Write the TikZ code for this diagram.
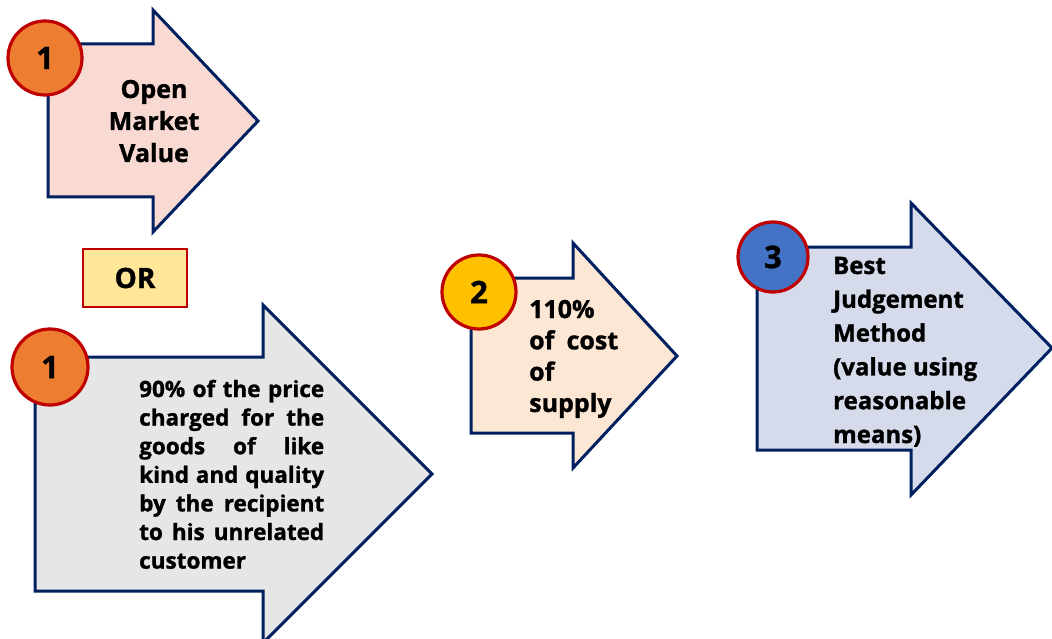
\documentclass[tikz,border=0pt]{standalone}
\usepackage{fontspec}
\setmainfont{Open Sans}[BoldFeatures={FakeBold=1.2}]
\definecolor{navy}{HTML}{002060}
\definecolor{cred}{HTML}{C00000}
\definecolor{fpink}{HTML}{F9DAD2}
\definecolor{fgrey}{HTML}{E6E6E6}
\definecolor{fpeach}{HTML}{FCE6D4}
\definecolor{flav}{HTML}{D6DBEC}
\definecolor{corange}{HTML}{ED7D31}
\definecolor{cyellow}{HTML}{FFC000}
\definecolor{cblue}{HTML}{4472C4}
\definecolor{orfill}{HTML}{FFE699}
\tikzset{
  arrowshape/.style={draw=navy, line width=3pt, line join=miter},
  numcircle/.style={circle, draw=cred, line width=3.2pt, inner sep=0pt, font=\fontsize{31}{31}\selectfont\bfseries},
  txt/.style={inner sep=0pt, anchor=base west},
}
\begin{document}
\begin{tikzpicture}[x=1pt,y=-1pt]
\useasboundingbox (0,0) rectangle (1052,639);
% arrows
\draw[arrowshape, fill=fpink] (48,44) -- (153,44) -- (153,10) -- (258,121) -- (153,232) -- (153,197) -- (48,197) -- cycle;
\draw[arrowshape, fill=fgrey] (35,357) -- (263,357) -- (263,305) -- (432,474) -- (263,643) -- (263,591) -- (35,591) -- cycle;
\draw[arrowshape, fill=fpeach] (471,278) -- (573,278) -- (573,243) -- (677,356) -- (573,468) -- (573,433) -- (471,433) -- cycle;
\draw[arrowshape, fill=flav] (757,247) -- (911,247) -- (911,203) -- (1052,348) -- (911,495) -- (911,450) -- (757,450) -- cycle;
% OR box
\node[draw=cred, line width=2pt, fill=orfill, minimum width=104pt, minimum height=58pt, inner sep=0pt,
  font=\fontsize{28}{28}\selectfont\bfseries] (orbox) at (135,278) {OR};
% circles
\node[numcircle, fill=corange, minimum size=74pt] (c1a) at (45,58) {1};
\node[numcircle, fill=corange, minimum size=76pt] (c1b) at (50,367) {1};
\node[numcircle, fill=cyellow, minimum size=74pt] (c2) at (479,292) {2};
\node[numcircle, fill=cblue, minimum size=70pt] (c3) at (773,257) {3};
% texts
\node[txt, anchor=base] (t1) at (154,98) {\parbox[t]{120pt}{\centering\fontsize{25}{32}\selectfont\bfseries Open\\Market\\Value}};
\node[txt] (t2) at (139,397) {\parbox[t]{185pt}{\fontsize{22.5}{28.6}\selectfont\bfseries
\makebox[185pt][s]{90\% of the price}\\
\makebox[185pt][s]{charged for the}\\
\makebox[185pt][s]{goods of like}\\
\makebox[185pt][s]{kind and quality}\\
\makebox[185pt][s]{by the recipient}\\
\makebox[185pt][s]{to his unrelated}\\
customer}};
\node[txt] (t3) at (529,318) {\parbox[t]{100pt}{\fontsize{25}{31.3}\selectfont\bfseries
110\%\\
\makebox[89pt][s]{of cost}\\
of\\
supply}};
\node[txt] (t4) at (833,274) {\parbox[t]{170pt}{\fontsize{24}{33.8}\selectfont\bfseries
Best\\Judgement\\Method\\(value using\\reasonable\\means)}};
\end{tikzpicture}
\end{document}
